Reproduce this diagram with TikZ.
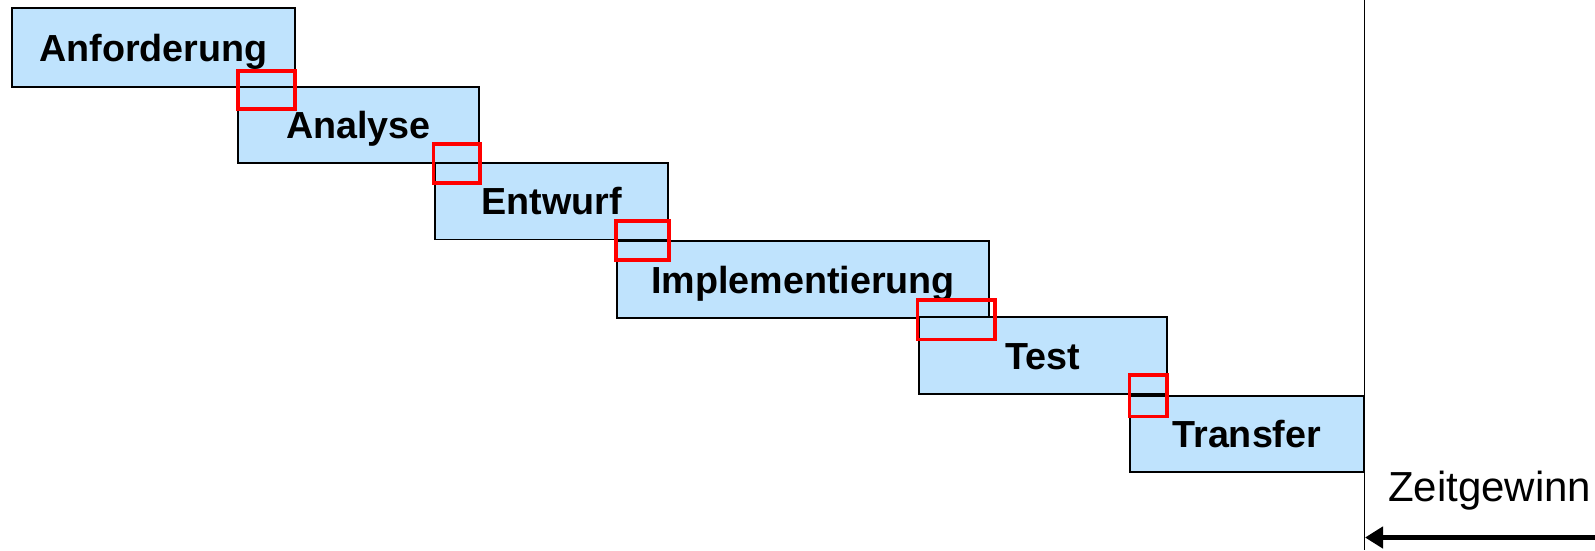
\documentclass[tikz,border=0pt]{standalone}
\usepackage{fontspec}
\setmainfont{Liberation Sans}
\usetikzlibrary{arrows.meta}
\definecolor{phasefill}{RGB}{191,227,253}
\definecolor{marker}{RGB}{255,0,0}
\tikzset{
  phase/.style={draw=black, line width=1.3pt, fill=phasefill, rectangle,
    inner sep=0pt, outer sep=0pt, text height=27pt, text depth=0pt,
    font=\fontsize{37.7}{45}\selectfont\bfseries},
  overlap/.style={draw=marker, line width=3.8pt, rectangle, inner sep=0pt, outer sep=0pt},
  timeline/.style={draw=black, line width=1.5pt},
  gainarrow/.style={draw=black, line width=4.5pt, -{Triangle[length=18pt,width=21pt]}}
}
\begin{document}
\begin{tikzpicture}[x=1pt, y=-1pt]
\useasboundingbox (0,0) rectangle (1595,550);
% phases of the process
\node[phase, minimum width=283pt, minimum height=79pt] (anf) at (153.5,47.5) {Anforderung};
\node[phase, minimum width=241pt, minimum height=76pt] (ana) at (358.5,125) {Analyse};
\node[phase, minimum width=233pt, minimum height=76.5pt] (ent) at (551.5,201.25) {Entwurf};
\node[phase, minimum width=372pt, minimum height=77pt] (imp) at (803,279.5) {Implementierung};
\node[phase, minimum width=248pt, minimum height=77pt] (tst) at (1043,355.5) {Test};
\node[phase, minimum width=233.5pt, minimum height=76pt] (trf) at (1246.75,434) {Transfer};
% overlapping transitions
\node[overlap, minimum width=57pt, minimum height=38pt] (o1) at (266.5,90) {};
\node[overlap, minimum width=46.5pt, minimum height=39.3pt] (o2) at (456.75,163.65) {};
\node[overlap, minimum width=53pt, minimum height=39pt] (o3) at (642.5,240.5) {};
\node[overlap, minimum width=77.5pt, minimum height=39.5pt] (o4) at (956.25,319.75) {};
\node[overlap, minimum width=37.5pt, minimum height=41.5pt] (o5) at (1148.25,395.75) {};
% end of the overlapped schedule and time gained
\coordinate (top) at (1364.5,0);
\coordinate (bottom) at (1364.5,550);
\draw[timeline] (top) -- (bottom);
\coordinate (arrowstart) at (1595,537.5);
\coordinate (arrowtip) at (1365,537.5);
\draw[gainarrow] (arrowstart) -- (arrowtip);
\node[anchor=base west, inner sep=0pt, font=\fontsize{42}{50}\selectfont] (gain) at (1388,501.7) {Zeitgewinn};
\end{tikzpicture}
\end{document}
